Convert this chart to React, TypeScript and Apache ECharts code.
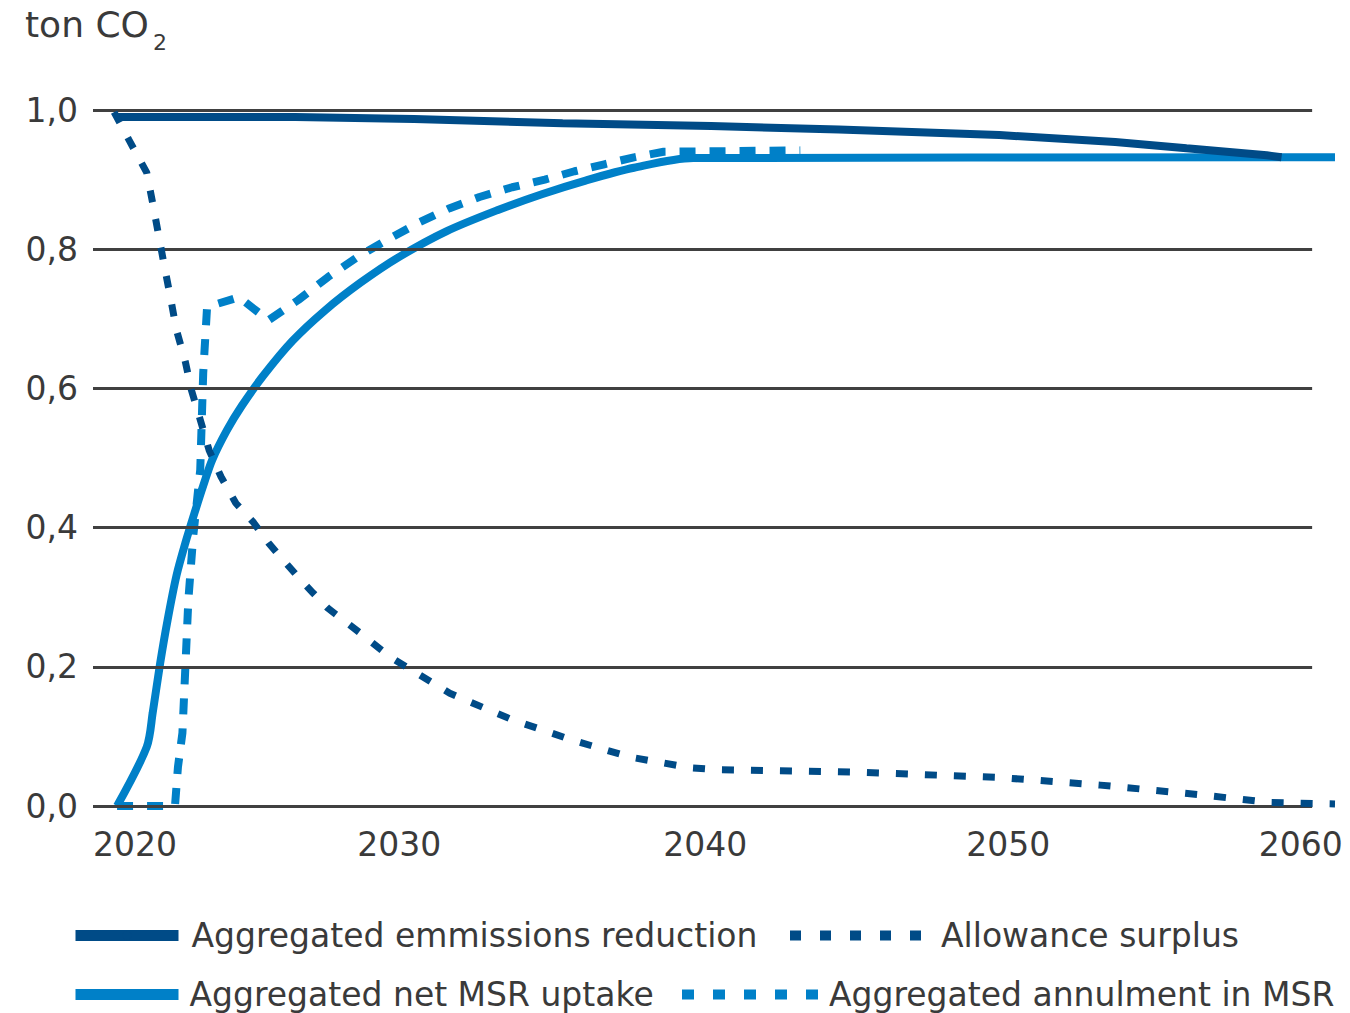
import React, { useEffect, useRef } from "react";
import * as echarts from "echarts";

const yTicks = [0, 0.2, 0.4, 0.6, 0.8, 1.0];
const xTicks = [2020, 2030, 2040, 2050, 2060];
// label anchor positions as drawn in the reference (shown as the tick year)
const xTickLabelAnchors = [2020.6, 2029.5, 2039.8, 2050, 2059.85];

const seriesNames = [
  "Aggregated emmissions reduction",
  "Allowance surplus",
  "Aggregated net MSR uptake",
  "Aggregated annulment in MSR",
];

const emissionsReduction: [number, number][] = [
  [2020, 0.99], [2026, 0.99], [2030, 0.987], [2035, 0.981], [2040, 0.977],
  [2044.3, 0.972], [2049.7, 0.964], [2053.6, 0.954], [2056, 0.945],
  [2058.7, 0.935], [2059.2, 0.932],
];

const allowanceSurplus: [number, number][] = [
  [2019.9, 0.997], [2020.4, 0.957], [2021.0, 0.91], [2021.2, 0.866], [2021.4, 0.82],
  [2021.6, 0.774], [2021.8, 0.73], [2022.0, 0.684], [2022.3, 0.638], [2022.5, 0.598],
  [2022.8, 0.555], [2023.1, 0.511], [2023.5, 0.473], [2024.0, 0.435], [2024.6, 0.407],
  [2025.1, 0.378], [2025.6, 0.353], [2026.1, 0.329], [2026.6, 0.306], [2027.1, 0.284],
  [2028.2, 0.248], [2029.2, 0.214], [2030.2, 0.188], [2031.2, 0.162], [2032.3, 0.142],
  [2033.3, 0.124], [2035.3, 0.095], [2037.3, 0.07], [2039.3, 0.055], [2040.3, 0.052],
  [2044.7, 0.049], [2049.7, 0.041], [2053.1, 0.03], [2056.5, 0.016], [2058.8, 0.005],
  [2061, 0.003],
];

const netMsrUptake: [number, number][] = [
  [2020, 0], [2021.0, 0.085], [2021.2, 0.134], [2021.45, 0.205], [2021.7, 0.267],
  [2022.0, 0.331], [2022.3, 0.378], [2022.6, 0.42], [2022.9, 0.46], [2023.2, 0.497],
  [2023.7, 0.54], [2024.2, 0.575], [2024.9, 0.617], [2025.9, 0.668], [2027.0, 0.712],
  [2028.2, 0.752], [2029.5, 0.789], [2031.1, 0.826], [2032.8, 0.856], [2034.3, 0.879],
  [2035.8, 0.899], [2037.4, 0.917], [2039.4, 0.931], [2061, 0.932],
];

const annulmentInMsr: [number, number][] = [
  [2020, 0], [2021.95, 0], [2022.05, 0.056], [2022.2, 0.105], [2022.3, 0.2],
  [2022.4, 0.296], [2022.56, 0.386], [2022.8, 0.483], [2022.9, 0.622], [2023.03, 0.717],
  [2024.1, 0.731], [2025.1, 0.698], [2026.1, 0.727], [2027.1, 0.76], [2028.1, 0.789],
  [2029.2, 0.816], [2030.2, 0.839], [2031.2, 0.859], [2032.2, 0.875], [2033.3, 0.889],
  [2034.4, 0.9], [2035.4, 0.912], [2036.4, 0.922], [2037.4, 0.932], [2038.4, 0.94],
  [2043, 0.942],
];

const X_MIN = 2019.19;
const X_MAX = 2061.0;
const GRID_END = 2060.23;

const DARK = "#004b87";
const LIGHT = "#0080c8";
const TEXT = "#3a3a3a";
const GRIDC = "#404040";
const FONT = "DejaVu Sans";

export default function App() {
  const ref = useRef<HTMLDivElement>(null);

  useEffect(() => {
    document.body.style.margin = "0";
    if (!ref.current) return;
    const chart = echarts.init(ref.current, null, { renderer: "svg" });

    const legendText = { fontFamily: FONT, fontSize: 33, color: TEXT, lineHeight: 32 };
    const legendBase = {
      orient: "horizontal",
      itemHeight: 11,
      itemWidth: 103,
      padding: 0,
      selectedMode: false,
    };

    chart.setOption({
      animation: false,
      backgroundColor: "#ffffff",
      title: [
        {
          text: "ton CO",
          left: 25,
          top: 5,
          padding: 0,
          textStyle: { fontFamily: FONT, fontSize: 36, lineHeight: 38, fontWeight: "normal", color: TEXT },
        },
        {
          text: "2",
          left: 153,
          top: 31,
          padding: 0,
          textStyle: { fontFamily: FONT, fontSize: 22, lineHeight: 22, fontWeight: "normal", color: TEXT },
        },
      ],
      grid: {
        left: 93,
        top: 110,
        width: 1242,
        height: 696,
        outerBoundsMode: "none",
        containLabel: false,
      },
      xAxis: {
        type: "value",
        min: X_MIN,
        max: X_MAX,
        axisLine: { show: false },
        axisTick: { show: false },
        splitLine: { show: false },
        axisLabel: {
          customValues: xTickLabelAnchors,
          formatter: (v: number) => String(xTicks[xTickLabelAnchors.indexOf(v)] ?? Math.round(v)),
          fontFamily: FONT,
          fontSize: 33,
          color: TEXT,
          margin: 22,
        },
      },
      yAxis: {
        type: "value",
        min: 0,
        max: 1,
        interval: 0.2,
        axisLine: { show: false },
        axisTick: { show: false },
        splitLine: { show: false },
        axisLabel: {
          customValues: yTicks,
          formatter: (v: number) => v.toFixed(1).replace(".", ","),
          fontFamily: FONT,
          fontSize: 33,
          color: TEXT,
          margin: 15,
          padding: [6, 0, 0, 0],
        },
      },
      legend: [
        {
          ...legendBase,
          data: [{ name: seriesNames[0] }],
          left: 70,
          top: 919,
          lineStyle: { width: 11 },
          textStyle: { ...legendText, padding: [0, 0, 0, 8] },
        },
        {
          ...legendBase,
          data: [{ name: seriesNames[1] }],
          left: 785,
          top: 919,
          itemWidth: 132,
          lineStyle: { width: 10, type: [11, 19] },
          textStyle: { ...legendText, padding: [0, 0, 0, 14] },
        },
        {
          ...legendBase,
          data: [{ name: seriesNames[2] }],
          left: 70,
          top: 978,
          lineStyle: { width: 11 },
          textStyle: { ...legendText, padding: [0, 0, 0, 6] },
        },
        {
          ...legendBase,
          data: [{ name: seriesNames[3] }],
          left: 677,
          top: 978,
          itemWidth: 136,
          lineStyle: { width: 10, type: [12, 19] },
          textStyle: { ...legendText, padding: [0, 0, 0, 6] },
        },
      ],
      series: [
        {
          name: "grid",
          type: "line",
          data: [],
          silent: true,
          z: 1,
          markLine: {
            silent: true,
            symbol: "none",
            label: { show: false },
            lineStyle: { color: GRIDC, width: 3, type: "solid" },
            data: yTicks.map((v) => [{ coord: [X_MIN, v] }, { coord: [GRID_END, v] }]),
          },
        },
        {
          name: seriesNames[2],
          type: "line",
          data: netMsrUptake,
          symbol: "none",
          smooth: 0.3,
          lineStyle: { color: LIGHT, width: 8 },
          itemStyle: { color: LIGHT },
          z: 2,
        },
        {
          name: seriesNames[3],
          type: "line",
          data: annulmentInMsr,
          symbol: "none",
          lineStyle: { color: LIGHT, width: 8, type: [16, 14] },
          itemStyle: { color: LIGHT },
          z: 3,
        },
        {
          name: seriesNames[0],
          type: "line",
          data: emissionsReduction,
          symbol: "none",
          lineStyle: { color: DARK, width: 8 },
          itemStyle: { color: DARK },
          z: 4,
        },
        {
          name: seriesNames[1],
          type: "line",
          data: allowanceSurplus,
          symbol: "none",
          lineStyle: { color: DARK, width: 7, type: [12, 17] },
          itemStyle: { color: DARK },
          z: 5,
        },
      ],
    });

    return () => chart.dispose();
  }, []);

  return <div ref={ref} style={{ width: 1350, height: 1013 }} />;
}
